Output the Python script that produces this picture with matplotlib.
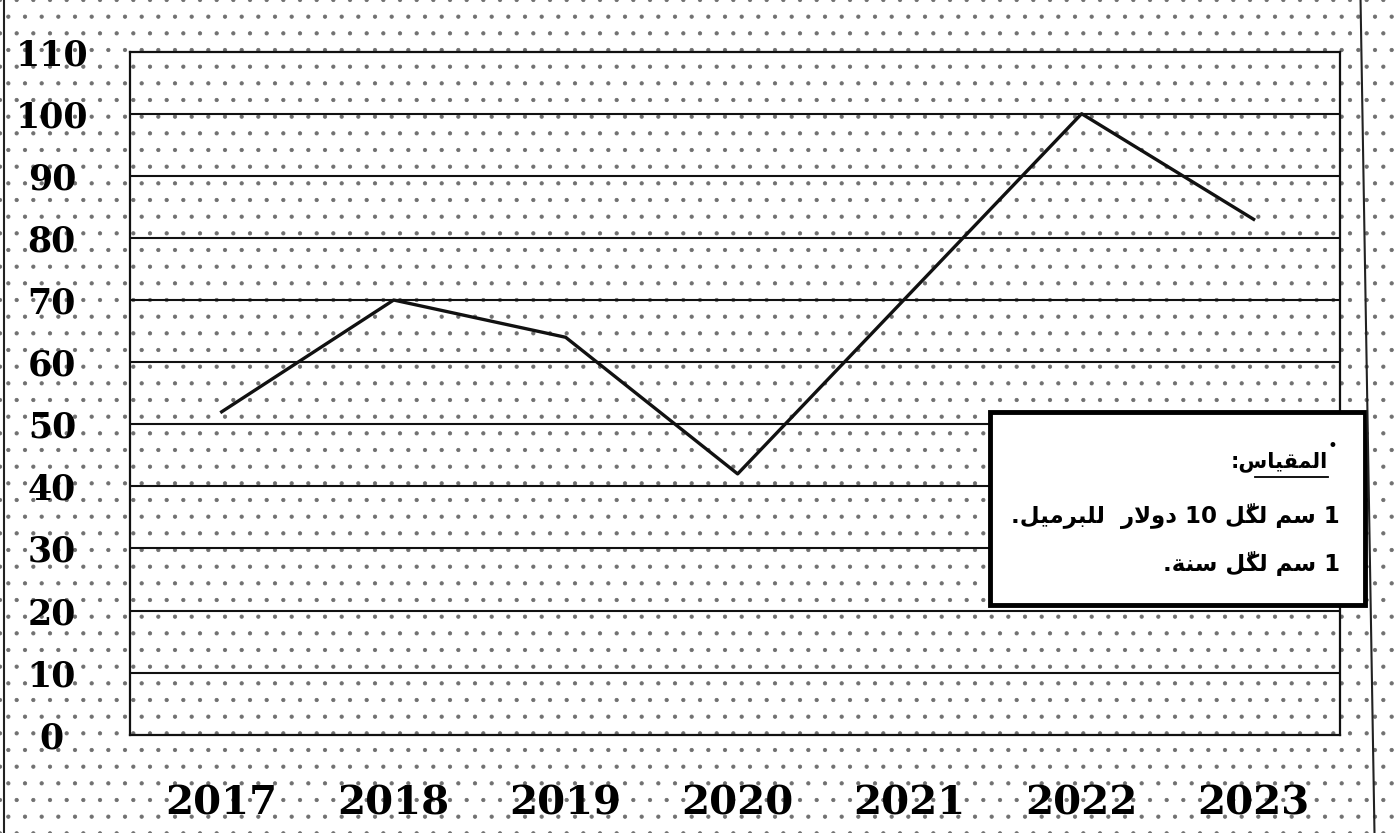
import matplotlib.pyplot as plt
from matplotlib.patches import Rectangle
from matplotlib.lines import Line2D

# price of a barrel (dollars) per year
years = ['2017', '2018', '2019', '2020', '2021', '2022', '2023']
prices = [52, 70, 64, 42, 71, 100, 83]
y_ticks = [0, 10, 20, 30, 40, 50, 60, 70, 80, 90, 100, 110]

# Arabic text, pre-shaped (presentation forms) in visual order
scale_title = ':' + '\uFEB1\uFE8E\uFEF4\uFED8\uFEE4\uFEDF\uFE8D'
scale_line1 = ('.' + '\uFEDE\uFEF4\uFEE3\uFEAE\uFE92\uFEE0\uFEDF' + '  '
               + '\uFEAD\uFEFB\uFEED\uFEA9' + ' 10 '
               + '\uFEDE\u0651\uFEDC\uFEDF' + ' ' + '\uFEE2\uFEB3' + ' 1')
scale_line2 = ('.' + '\uFE94\uFEE8\uFEB3' + ' '
               + '\uFEDE\u0651\uFEDC\uFEDF' + ' ' + '\uFEE2\uFEB3' + ' 1')

plt.rcParams['hatch.linewidth'] = 0.6

fig = plt.figure(figsize=(13.94, 8.33), dpi=100)

# dotted paper background
bg = Rectangle((0, 0), 1, 1, transform=fig.transFigure, facecolor='white',
               edgecolor='#707070', hatch='.', linewidth=0, zorder=-10)
fig.patches.append(bg)
fig.add_artist(Line2D([0.003, 0.003], [0, 1], color='#222', lw=1.5))
fig.add_artist(Line2D([0.976, 0.986], [1, 0], color='#222', lw=1.5))

ax = fig.add_axes([0.093, 0.118, 0.868, 0.82])
ax.set_facecolor('none')

x = list(range(len(years)))
ax.plot(x, prices, color='#111', lw=2.4, zorder=3)

ax.set_xlim(-0.535, 6.5)
ax.set_ylim(0, 110)
ax.set_yticks(y_ticks)
ax.set_yticklabels([str(v) for v in y_ticks], fontsize=25, fontweight='bold',
                   family='DejaVu Serif', ha='center')
ax.set_xticks(x)
ax.set_xticklabels(years, fontsize=29, fontweight='bold', family='DejaVu Serif')
ax.tick_params(axis='y', length=0, pad=56)
ax.tick_params(axis='x', length=0, pad=36)

for v in y_ticks[1:-1]:
    ax.axhline(v, color='#111', lw=1.5, zorder=1)
for s in ax.spines.values():
    s.set_linewidth(1.6)
    s.set_color('#111')

# scale box
box = Rectangle((0.711, 0.19), 0.31, 0.282, transform=ax.transAxes,
                facecolor='white', edgecolor='black', lw=3.5,
                clip_on=False, zorder=5)
ax.add_patch(box)
ax.text(0.99, 0.40, scale_title, transform=ax.transAxes, ha='right',
        va='center', fontsize=15, fontweight='bold', family='DejaVu Sans',
        zorder=6)
ax.plot([0.93, 0.99], [0.378, 0.378], transform=ax.transAxes, color='black',
        lw=1.3, clip_on=False, zorder=6)
ax.text(0.994, 0.422, '\u2022', transform=ax.transAxes, ha='center', va='center',
        fontsize=12, zorder=6)
ax.text(1.0, 0.32, scale_line1, transform=ax.transAxes, ha='right', va='center',
        fontsize=16.5, fontweight='bold', family='DejaVu Sans', zorder=6)
ax.text(1.0, 0.25, scale_line2, transform=ax.transAxes, ha='right', va='center',
        fontsize=16.5, fontweight='bold', family='DejaVu Sans', zorder=6)

fig.savefig('out.png', dpi=100)
